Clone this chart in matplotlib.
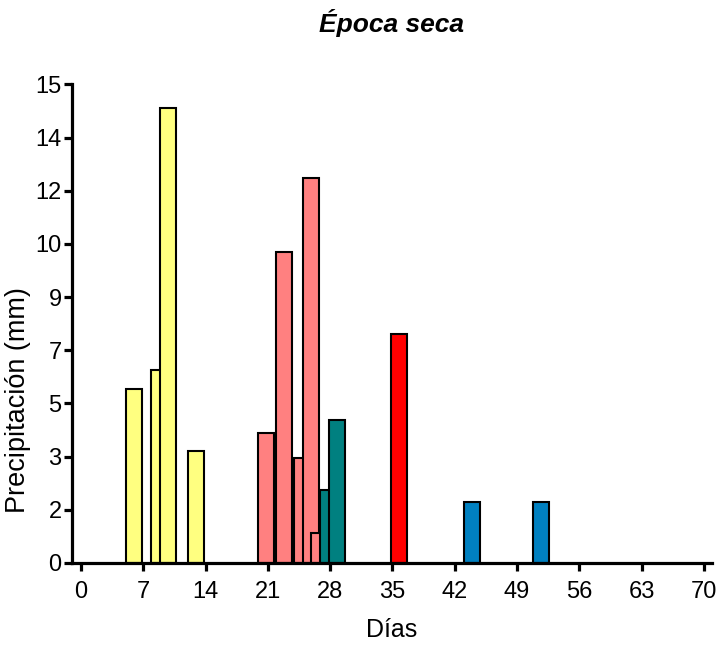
import numpy as np
import matplotlib
matplotlib.use('Agg')
import matplotlib.pyplot as plt

plt.rcParams['font.family'] = ['Liberation Sans', 'DejaVu Sans']

# rain events, grouped by colour (day, mm)
yellow_days = [6.0, 8.8, 9.8, 12.9]
yellow_mm = [5.45, 6.05, 14.25, 3.5]
pink_days = [20.8, 22.8, 24.8, 25.8, 26.8]
pink_mm = [4.07, 9.74, 3.28, 12.07, 0.95]
teal_days = [27.8, 28.8]
teal_mm = [2.29, 4.49]
red_days = [35.75]
red_mm = [7.19]
blue_days = [43.9, 51.7]
blue_mm = [1.92, 1.92]

x_ticks = [0, 7, 14, 21, 28, 35, 42, 49, 56, 63, 70]
y_tick_labels = ['0', '2', '3', '5', '7', '9', '10', '12', '14', '15']

fig = plt.figure(figsize=(7.18, 6.46), dpi=100)
ax = fig.add_axes([0.1003, 0.1285, 0.8913, 0.7407])

groups = [
    (yellow_days, yellow_mm, '#FFFF80'),
    (pink_days, pink_mm, '#FF8080'),
    (teal_days, teal_mm, '#008080'),
    (red_days, red_mm, '#FF0000'),
    (blue_days, blue_mm, '#0080C0'),
]
for days, mm, col in groups:
    for d, v in zip(days, mm):
        ax.bar(d, v, width=1.8, color=col, edgecolor='black', linewidth=1.5)

ax.set_xlim(-1.0, 70.9)
ax.set_ylim(0, 15)
ax.set_xticks(x_ticks)
ax.set_yticks(np.linspace(0, 15, 10))
ax.set_yticklabels(y_tick_labels)

for s in ['top', 'right']:
    ax.spines[s].set_visible(False)
for s in ['left', 'bottom']:
    ax.spines[s].set_linewidth(2.3)
ax.tick_params(width=2.3, length=6, labelsize=17)
ax.tick_params(axis='x', pad=7)
ax.tick_params(axis='y', pad=1.5)

ax.set_xlabel('Días', fontsize=18, labelpad=11)
ax.set_ylabel('Precipitación (mm)', fontsize=19.5, labelpad=3)
ax.yaxis.label.set_y(0.34)
ax.set_title('Época seca', fontsize=19, fontweight='bold', style='italic', pad=38)

fig.savefig('out.png', dpi=100)
